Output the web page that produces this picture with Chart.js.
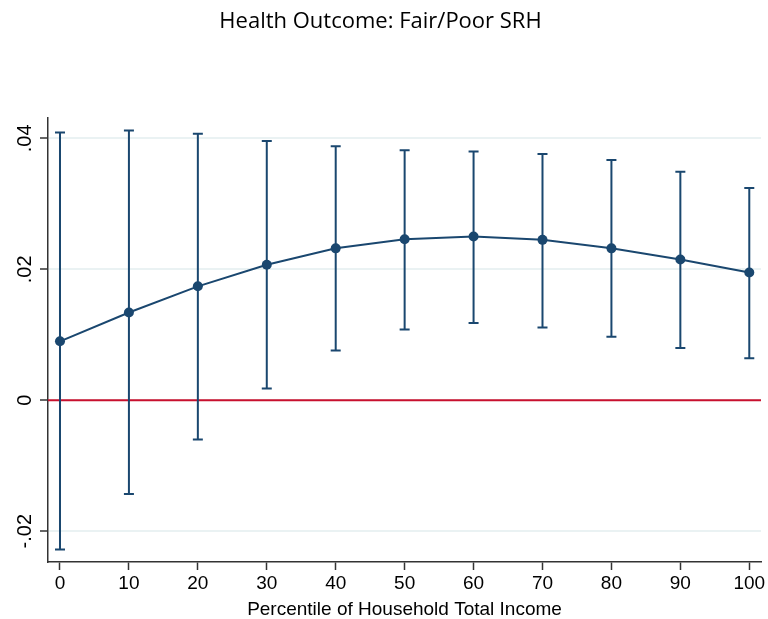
<!DOCTYPE html>
<html>
<head>
<meta charset="utf-8">
<script src="https://cdn.jsdelivr.net/npm/chart.js@4.4.0/dist/chart.umd.min.js"></script>
<style>
  body { margin: 0; background: #fff; }
  #wrap { width: 768px; height: 619px; }
</style>
</head>
<body>
<div id="wrap"><canvas id="srh"></canvas></div>
<script>
var pctl = [0, 10, 20, 30, 40, 50, 60, 70, 80, 90, 100];
var est = [0.0090, 0.0134, 0.0174, 0.0207, 0.0232, 0.0246, 0.0250, 0.0245, 0.0232, 0.0215, 0.0195];
var ciHigh = [0.0409, 0.0412, 0.0407, 0.0396, 0.0388, 0.0382, 0.0380, 0.0376, 0.0367, 0.0349, 0.0324];
var ciLow = [-0.0228, -0.0143, -0.0060, 0.0018, 0.0076, 0.0108, 0.0118, 0.0111, 0.0097, 0.0080, 0.0064];
var yTicks = [-0.02, 0, 0.02, 0.04];
var yTickLabels = ["-.02", "0", ".02", ".04"];
var xTicks = [0, 10, 20, 30, 40, 50, 60, 70, 80, 90, 100];

var navy = "#1a476f";
var axisFont = "'Liberation Sans', Arial, sans-serif";

// red reference line at 0, then the confidence intervals
var ciPlugin = {
   id: "ciBars",
   beforeDatasetsDraw: function (chart) {
      var ctx = chart.ctx;
      var xs = chart.scales.x, ys = chart.scales.y;
      var area = chart.chartArea;
      ctx.save();
      ctx.strokeStyle = "#c8102e";
      ctx.lineWidth = 2;
      ctx.beginPath();
      ctx.moveTo(area.left, ys.getPixelForValue(0));
      ctx.lineTo(area.right, ys.getPixelForValue(0));
      ctx.stroke();

      ctx.strokeStyle = navy;
      ctx.lineWidth = 2;
      for (var i = 0; i < pctl.length; i++) {
         var px = xs.getPixelForValue(pctl[i]);
         var top = ys.getPixelForValue(ciHigh[i]);
         var bot = ys.getPixelForValue(ciLow[i]);
         ctx.beginPath();
         ctx.moveTo(px, top);
         ctx.lineTo(px, bot);
         ctx.moveTo(px - 5, top);
         ctx.lineTo(px + 5, top);
         ctx.moveTo(px - 5, bot);
         ctx.lineTo(px + 5, bot);
         ctx.stroke();
      }
      ctx.restore();
   },
   afterDraw: function (chart) {
      // vertical y tick labels, Stata style
      var ctx = chart.ctx;
      var ys = chart.scales.y;
      ctx.save();
      ctx.fillStyle = "#000";
      ctx.font = "20px " + axisFont;
      ctx.textAlign = "center";
      ctx.textBaseline = "middle";
      for (var i = 0; i < yTicks.length; i++) {
         ctx.save();
         ctx.translate(25, ys.getPixelForValue(yTicks[i]));
         ctx.rotate(-Math.PI / 2);
         ctx.fillText(yTickLabels[i], 0, 0);
         ctx.restore();
      }
      ctx.restore();
   }
};

new Chart("srh", {
   type: "line",
   data: {
      datasets: [{
         data: pctl.map(function (p, i) { return { x: p, y: est[i] }; }),
         borderColor: navy,
         backgroundColor: navy,
         borderWidth: 2,
         pointRadius: 5,
         pointBackgroundColor: navy,
         pointBorderWidth: 0,
         tension: 0
      }]
   },
   options: {
      responsive: true,
      maintainAspectRatio: false,
      animation: false,
      layout: { padding: { left: 0, right: 7, top: 0, bottom: 0 } },
      plugins: {
         legend: { display: false },
         tooltip: { enabled: false },
         title: {
            display: true,
            text: "Health Outcome: Fair/Poor SRH",
            color: "#000",
            font: { family: "'Open Sans', 'Noto Sans', sans-serif", size: 22, weight: "normal" },
            padding: { top: 9, bottom: 82 }
         }
      },
      scales: {
         x: {
            type: "linear",
            min: -1.74,
            max: 101.7,
            afterBuildTicks: function (axis) {
               axis.ticks = xTicks.map(function (v) { return { value: v }; });
            },
            afterFit: function (axis) { axis.height = 57; },
            grid: { drawOnChartArea: false, drawTicks: true, tickLength: 8, tickColor: "#333", tickWidth: 1.5 },
            border: { color: "#333", width: 1.5 },
            ticks: {
               color: "#000",
               padding: 2,
               maxRotation: 0,
               font: { family: axisFont, size: 19 },
               callback: function (v) { return String(v); }
            },
            title: {
               display: true,
               text: "Percentile of Household Total Income",
               color: "#000",
               font: { family: axisFont, size: 19, lineHeight: 1 },
               padding: { top: -6, bottom: 0 }
            }
         },
         y: {
            min: -0.0247,
            max: 0.0432,
            afterBuildTicks: function (axis) {
               axis.ticks = yTicks.map(function (v) { return { value: v }; });
            },
            afterFit: function (axis) { axis.width = 48; },
            grid: { color: "#eaf2f3", lineWidth: 2, drawTicks: true, tickLength: 8, tickColor: "#333", tickWidth: 1.5 },
            border: { color: "#333", width: 1.5 },
            ticks: { display: false }
         }
      }
   },
   plugins: [ciPlugin]
});
</script>
</body>
</html>
